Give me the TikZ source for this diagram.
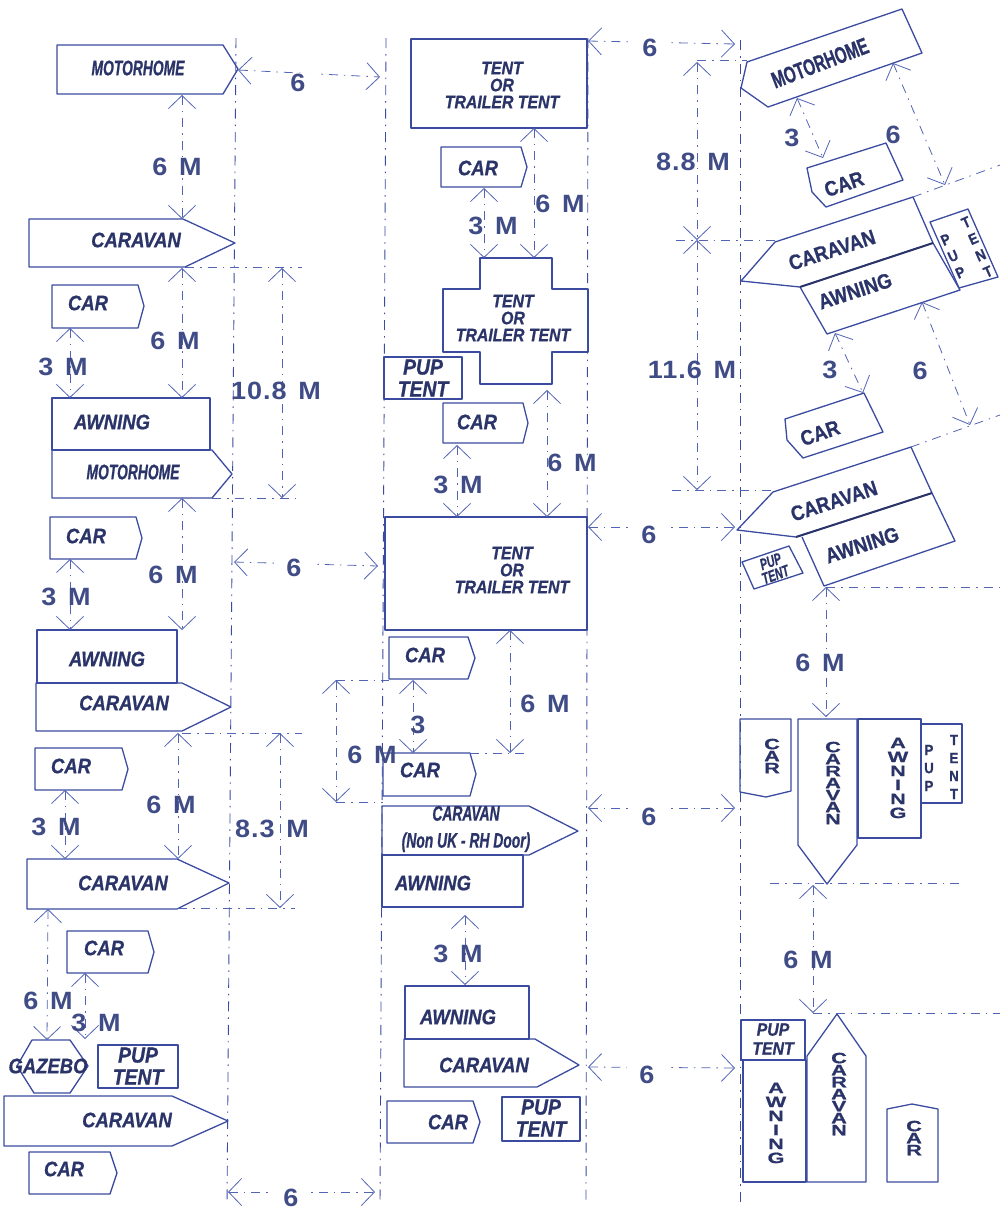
\documentclass[tikz,border=0pt]{standalone}
\usepackage{fontspec}
\usepackage{xcolor}
\usepackage{tikz}
\usetikzlibrary{arrows.meta}
\setmainfont{Liberation Sans}
\newfontfamily\boxfont[FakeStretch=0.88,FakeBold=0.8]{Liberation Sans}
\newfontfamily\tightfont[FakeStretch=0.66,FakeBold=0.8]{Liberation Sans}
\newfontfamily\widefont[FakeStretch=1.45,FakeBold=0.8]{Liberation Sans}
\newfontfamily\dimfont[FakeStretch=1.08,LetterSpace=4,WordSpace=1.4]{Liberation Sans}
\definecolor{boxblue}{HTML}{3A4BA0}
\definecolor{textnavy}{HTML}{2A3468}
\definecolor{dimnavy}{HTML}{3F4C86}
\definecolor{lineblue}{HTML}{5264B4}
\tikzset{
	boxline/.style={draw=boxblue, line width=1.3pt, line join=round},
	thickline/.style={draw=textnavy, line width=2pt},
	dimline/.style={draw=lineblue, line width=0.8pt, dash pattern=on 9pt off 6pt on 1.5pt off 6pt, {Straight Barb[length=13pt,width=27pt]}-{Straight Barb[length=13pt,width=27pt]}},
	extline/.style={draw=lineblue, line width=0.8pt, dash pattern=on 9pt off 6pt on 1.5pt off 6pt},
	axisline/.style={draw=boxblue, line width=0.9pt, dash pattern=on 10pt off 6pt on 1.5pt off 6pt},
	boxtext/.style={inner sep=0pt, text=textnavy, font=\boxfont\bfseries\itshape\fontsize{21}{21}\selectfont},
	tighttext/.style={inner sep=0pt, text=textnavy, align=center, font=\tightfont\bfseries\itshape\fontsize{21}{27}\selectfont},
	tenttext/.style={inner sep=0pt, text=textnavy, align=center, font=\boxfont\bfseries\itshape\fontsize{18}{17}\selectfont},
	puptext/.style={inner sep=0pt, text=textnavy, align=center, font=\boxfont\bfseries\itshape\fontsize{22}{22}\selectfont},
	slanttext/.style={inner sep=0pt, text=textnavy, font=\boxfont\bfseries\fontsize{21}{21}\selectfont},
	stacktext/.style={inner sep=0pt, text=textnavy, align=center, font=\widefont\bfseries\fontsize{15}{#1}\selectfont},
	piptext/.style={inner sep=0pt, text=textnavy, align=center, font=\boxfont\bfseries\fontsize{15}{18}\selectfont},
	dimtext/.style={inner sep=0pt, text=dimnavy, font=\dimfont\bfseries\fontsize{25}{25}\selectfont},
	gaptext/.style={dimtext, fill=white, inner xsep=12pt, inner ysep=1pt}
}
\begin{document}
\begin{tikzpicture}[x=1pt, y=-1pt]
		\useasboundingbox (0,0) rectangle (1007,1211);

		% Axis lines
		\coordinate (axisAt) at (236,38);  \coordinate (axisAb) at (227,1205);
		\coordinate (axisBt) at (386,38);  \coordinate (axisBb) at (380,1205);
		\coordinate (axisCt) at (588,38);  \coordinate (axisCb) at (586,1205);
		\coordinate (axisDt) at (740,40);  \coordinate (axisDb) at (740,1205);
		\draw[axisline] (axisAt) -- (axisAb);
		\draw[axisline] (axisBt) -- (axisBb);
		\draw[axisline] (axisCt) -- (axisCb);
		\draw[axisline] (axisDt) -- (axisDb);

		% Left column
		\draw[boxline] (57,45) -- (223,45) -- (238,69) -- (223,94) -- (57,94) -- cycle;
		\node[tighttext] (motorhomeA) at (138,68) {MOTORHOME};
		\draw[boxline] (29,219) -- (183,219) -- (235,243) -- (185,267) -- (29,267) -- cycle;
		\node[boxtext] (caravanA) at (136,240) {CARAVAN};
		\draw[boxline] (52,285) -- (138,285) -- (144,306) -- (138,328) -- (52,328) -- cycle;
		\node[boxtext] (carA) at (88,303) {CAR};
		\draw[boxline] (52,398) rectangle (210,450);
		\node[boxtext] (awningA) at (112,422) {AWNING};
		\draw[boxline] (52,450) -- (212,450) -- (232,474) -- (212,498) -- (52,498) -- cycle;
		\node[tighttext] (motorhomeB) at (133,472) {MOTORHOME};
		\draw[boxline] (50,517) -- (136,517) -- (142,538) -- (136,559) -- (50,559) -- cycle;
		\node[boxtext] (carB) at (86,536) {CAR};
		\draw[boxline] (37,630) rectangle (177,683);
		\node[boxtext] (awningB) at (107,659) {AWNING};
		\draw[boxline] (36,683) -- (182,683) -- (231,707) -- (182,731) -- (36,731) -- cycle;
		\node[boxtext] (caravanB) at (124,703) {CARAVAN};
		\draw[boxline] (35,748) -- (122,748) -- (128,769) -- (122,790) -- (35,790) -- cycle;
		\node[boxtext] (carC) at (71,766) {CAR};
		\draw[boxline] (27,859) -- (177,859) -- (229,883) -- (177,909) -- (27,909) -- cycle;
		\node[boxtext] (caravanC) at (123,883) {CARAVAN};
		\draw[boxline] (67,931) -- (148,931) -- (154,952) -- (148,973) -- (67,973) -- cycle;
		\node[boxtext] (carD) at (104,948) {CAR};
		\draw[boxline] (32,1040) -- (70,1040) -- (88,1066) -- (70,1093) -- (34,1093) -- (17,1066) -- cycle;
		\node[boxtext] (gazebo) at (48,1066) {GAZEBO};
		\draw[boxline] (98,1045) rectangle (178,1088);
		\node[puptext] (pupA) at (138,1066) {PUP\\TENT};
		\draw[boxline] (4,1096) -- (172,1096) -- (228,1121) -- (172,1146) -- (4,1146) -- cycle;
		\node[boxtext] (caravanD) at (127,1120) {CARAVAN};
		\draw[boxline] (29,1152) -- (110,1152) -- (117,1173) -- (110,1194) -- (29,1194) -- cycle;
		\node[boxtext] (carE) at (64,1169) {CAR};

		% Middle column
		\draw[boxline] (411,39) rectangle (587,128);
		\node[tenttext] (tentA) at (502,85) {TENT\\OR\\TRAILER TENT};
		\draw[boxline] (441,147) -- (521,147) -- (527,167) -- (521,187) -- (441,187) -- cycle;
		\node[boxtext] (carF) at (478,168) {CAR};
		\draw[boxline] (480,258) -- (552,258) -- (552,289) -- (588,289) -- (588,352) -- (552,352) -- (552,384) -- (480,384) -- (480,352) -- (443,352) -- (443,289) -- (480,289) -- cycle;
		\node[tenttext] (tentB) at (513,318) {TENT\\OR\\TRAILER TENT};
		\draw[boxline, fill=white] (384,357) rectangle (462,399);
		\node[puptext] (pupB) at (423,378) {PUP\\TENT};
		\draw[boxline] (443,403) -- (523,403) -- (528,423) -- (523,443) -- (443,443) -- cycle;
		\node[boxtext] (carG) at (477,422) {CAR};
		\draw[boxline] (385,517) rectangle (587,630);
		\node[tenttext] (tentC) at (512,570) {TENT\\OR\\TRAILER TENT};
		\draw[boxline] (389,637) -- (468,637) -- (475,658) -- (468,679) -- (389,679) -- cycle;
		\node[boxtext] (carH) at (425,655) {CAR};
		\draw[boxline] (383,753) -- (470,753) -- (476,774) -- (470,796) -- (383,796) -- cycle;
		\node[boxtext] (carI) at (420,770) {CAR};
		\draw[boxline] (382,806) -- (529,806) -- (578,831) -- (529,855) -- (382,855) -- cycle;
		\node[tighttext] (caravanE) at (466,829) {CARAVAN\\(Non UK - RH Door)};
		\draw[boxline] (382,855) rectangle (523,907);
		\node[boxtext] (awningC) at (433,883) {AWNING};
		\draw[boxline] (405,986) rectangle (529,1039);
		\node[boxtext] (awningD) at (458,1017) {AWNING};
		\draw[boxline] (404,1039) -- (535,1039) -- (579,1065) -- (537,1087) -- (404,1087) -- cycle;
		\node[boxtext] (caravanF) at (484,1065) {CARAVAN};
		\draw[boxline] (387,1101) -- (473,1101) -- (480,1122) -- (473,1143) -- (387,1143) -- cycle;
		\node[boxtext] (carJ) at (448,1122) {CAR};
		\draw[boxline] (502,1097) rectangle (580,1141);
		\node[puptext] (pupC) at (541,1118) {PUP\\TENT};

		% Right column, angled
		\draw[boxline] (747,62) -- (902,9) -- (922,53) -- (768,107) -- (741,88) -- cycle;
		\node[tighttext, font=\tightfont\bfseries\fontsize{23}{23}\selectfont, rotate=21] (motorhomeC) at (820,63) {MOTORHOME};
		\draw[boxline] (807,168) -- (886,143) -- (903,180) -- (826,207) -- (812,192) -- cycle;
		\node[slanttext, rotate=19] (carK) at (844,184) {CAR};
		\draw[boxline] (775,242) -- (913,197) -- (933,243) -- (800,287) -- (741,281) -- cycle;
		\node[slanttext, rotate=18] (caravanG) at (832,250) {CARAVAN};
		\draw[boxline] (800,287) -- (827,334) -- (960,290) -- (933,243);
		\draw[thickline] (800,287) -- (933,243);
		\node[slanttext, rotate=18] (awningE) at (855,291) {AWNING};
		\draw[boxline] (930,222) -- (968,209) -- (998,277) -- (959,288) -- cycle;
		\node[piptext, rotate=24] (pupD) at (953,256) {P\\U\\P};
		\node[piptext, rotate=24] (tentD) at (977,247) {T\\E\\N\\T};
		\draw[boxline] (785,419) -- (864,393) -- (883,432) -- (803,458) -- (787,440) -- cycle;
		\node[slanttext, rotate=19] (carL) at (820,433) {CAR};
		\draw[boxline] (773,492) -- (911,447) -- (932,493) -- (796,537) -- (737,530) -- cycle;
		\node[slanttext, rotate=18] (caravanH) at (834,501) {CARAVAN};
		\draw[boxline] (802,537) -- (824,586) -- (955,541) -- (932,493);
		\draw[thickline] (796,537) -- (932,493);
		\node[slanttext, rotate=18] (awningF) at (862,545) {AWNING};
		\draw[boxline] (742,562) -- (789,546) -- (803,573) -- (754,589) -- cycle;
		\node[tenttext, font=\tightfont\bfseries\itshape\fontsize{16}{14}\selectfont, rotate=20] (pupE) at (773,568) {PUP\\TENT};

		% Right column, upright
		\draw[boxline] (740,719) -- (791,719) -- (791,791) -- (766,797) -- (740,792) -- cycle;
		\node[stacktext=12] (carM) at (772,756) {C\\A\\R};
		\draw[boxline] (798,719) -- (857,719) -- (857,845) -- (827,884) -- (798,845) -- cycle;
		\node[stacktext=12] (caravanI) at (833,783) {C\\A\\R\\A\\V\\A\\N};
		\draw[boxline] (858,719) rectangle (921,838);
		\node[stacktext=14] (awningG) at (898,778) {A\\W\\N\\I\\N\\G};
		\draw[boxline] (921,724) rectangle (962,803);
		\node[piptext] (pupF) at (929,768) {P\\U\\P};
		\node[piptext] (tentF) at (954,767) {T\\E\\N\\T};
		\draw[boxline] (741,1020) rectangle (805,1060);
		\node[puptext, font=\boxfont\bfseries\itshape\fontsize{18}{19}\selectfont] (pupG) at (773,1039) {PUP\\TENT};
		\draw[boxline] (743,1060) rectangle (806,1182);
		\node[stacktext=14] (awningH) at (776,1123) {A\\W\\N\\I\\N\\G};
		\draw[boxline] (807,1056) -- (837,1014) -- (866,1056) -- (866,1182) -- (807,1182) -- cycle;
		\node[stacktext=12] (caravanJ) at (839,1094) {C\\A\\R\\A\\V\\A\\N};
		\draw[boxline] (887,1109) -- (912,1104) -- (938,1109) -- (938,1182) -- (887,1182) -- cycle;
		\node[stacktext=12] (carN) at (914,1138) {C\\A\\R};

		% Arrow ends
		\coordinate (a1) at (182,95);    \coordinate (a2) at (182,219);
		\coordinate (a3) at (182,268);   \coordinate (a4) at (182,398);
		\coordinate (a5) at (282,268);   \coordinate (a6) at (282,498);
		\coordinate (a7) at (70,328);    \coordinate (a8) at (70,398);
		\coordinate (a9) at (182,498);   \coordinate (a10) at (182,630);
		\coordinate (a11) at (70,559);   \coordinate (a12) at (70,630);
		\coordinate (a13) at (178,733);  \coordinate (a14) at (178,859);
		\coordinate (a15) at (280,733);  \coordinate (a16) at (280,908);
		\coordinate (a17) at (65,790);   \coordinate (a18) at (65,859);
		\coordinate (a19) at (48,909);   \coordinate (a20) at (47,1040);
		\coordinate (a21) at (85,973);   \coordinate (a22) at (85,1039);
		\coordinate (h1) at (238,70);    \coordinate (h2) at (380,77);
		\coordinate (h3) at (234,562);   \coordinate (h4) at (378,566);
		\coordinate (h5) at (228,1192);  \coordinate (h6) at (375,1192);
		\coordinate (b1) at (484,188);   \coordinate (b2) at (484,258);
		\coordinate (b3) at (534,128);   \coordinate (b4) at (534,258);
		\coordinate (b5) at (457,445);   \coordinate (b6) at (457,517);
		\coordinate (b7) at (547,390);   \coordinate (b8) at (547,517);
		\coordinate (b9) at (413,680);   \coordinate (b10) at (413,753);
		\coordinate (b11) at (510,630);  \coordinate (b12) at (510,753);
		\coordinate (b13) at (336,680);  \coordinate (b14) at (336,802);
		\coordinate (b15) at (465,915);  \coordinate (b16) at (465,985);
		\coordinate (h7) at (588,41);    \coordinate (h8) at (735,44);
		\coordinate (h9) at (588,527);   \coordinate (h10) at (735,527);
		\coordinate (h11) at (588,808);  \coordinate (h12) at (735,808);
		\coordinate (h13) at (588,1067); \coordinate (h14) at (735,1068);
		\coordinate (c1) at (697,62);    \coordinate (c2) at (697,240);
		\coordinate (c3) at (697,240);   \coordinate (c4) at (697,490);
		\coordinate (c5) at (797,98);    \coordinate (c6) at (823,158);
		\coordinate (c7) at (893,63);    \coordinate (c8) at (945,185);
		\coordinate (c9) at (835,333);   \coordinate (c10) at (863,393);
		\coordinate (c11) at (922,302);  \coordinate (c12) at (970,425);
		\coordinate (c13) at (826,587);  \coordinate (c14) at (826,717);
		\coordinate (c15) at (813,885);  \coordinate (c16) at (813,1013);

		% Extension line ends
		\coordinate (e1) at (185,267);   \coordinate (e2) at (302,267);
		\coordinate (e3) at (212,498);   \coordinate (e4) at (302,498);
		\coordinate (e5) at (182,733);   \coordinate (e6) at (302,733);
		\coordinate (e7) at (178,908);   \coordinate (e8) at (295,908);
		\coordinate (e9) at (336,680);   \coordinate (e10) at (389,680);
		\coordinate (e11) at (336,802);  \coordinate (e12) at (383,802);
		\coordinate (e13) at (470,753);  \coordinate (e14) at (525,753);
		\coordinate (e15) at (697,60);   \coordinate (e16) at (747,60);
		\coordinate (e17) at (676,240);  \coordinate (e18) at (775,240);
		\coordinate (e19) at (672,490);  \coordinate (e20) at (773,490);
		\coordinate (e21) at (913,197);  \coordinate (e22) at (1000,165);
		\coordinate (e23) at (911,447);  \coordinate (e24) at (1000,415);
		\coordinate (e25) at (826,587);  \coordinate (e26) at (1000,587);
		\coordinate (e27) at (770,883);  \coordinate (e28) at (965,883);
		\coordinate (e29) at (813,1013); \coordinate (e30) at (1000,1013);

		% Arrows
		\draw[dimline] (a1) -- (a2);
		\draw[dimline] (a3) -- (a4);
		\draw[dimline] (a5) -- (a6);
		\draw[dimline] (a7) -- (a8);
		\draw[dimline] (a9) -- (a10);
		\draw[dimline] (a11) -- (a12);
		\draw[dimline] (a13) -- (a14);
		\draw[dimline] (a15) -- (a16);
		\draw[dimline] (a17) -- (a18);
		\draw[dimline] (a19) -- (a20);
		\draw[dimline] (a21) -- (a22);
		\draw[dimline] (h1) -- (h2);
		\draw[dimline] (h3) -- (h4);
		\draw[dimline] (h5) -- (h6);
		\draw[dimline] (b1) -- (b2);
		\draw[dimline] (b3) -- (b4);
		\draw[dimline] (b5) -- (b6);
		\draw[dimline] (b7) -- (b8);
		\draw[dimline] (b9) -- (b10);
		\draw[dimline] (b11) -- (b12);
		\draw[dimline] (b13) -- (b14);
		\draw[dimline] (b15) -- (b16);
		\draw[dimline] (h7) -- (h8);
		\draw[dimline] (h9) -- (h10);
		\draw[dimline] (h11) -- (h12);
		\draw[dimline] (h13) -- (h14);
		\draw[dimline] (c1) -- (c2);
		\draw[dimline] (c3) -- (c4);
		\draw[dimline] (c5) -- (c6);
		\draw[dimline] (c7) -- (c8);
		\draw[dimline] (c9) -- (c10);
		\draw[dimline] (c11) -- (c12);
		\draw[dimline] (c13) -- (c14);
		\draw[dimline] (c15) -- (c16);

		% Extension lines
		\draw[extline] (e1) -- (e2);
		\draw[extline] (e3) -- (e4);
		\draw[extline] (e5) -- (e6);
		\draw[extline] (e7) -- (e8);
		\draw[extline] (e9) -- (e10);
		\draw[extline] (e11) -- (e12);
		\draw[extline] (e13) -- (e14);
		\draw[extline] (e15) -- (e16);
		\draw[extline] (e17) -- (e18);
		\draw[extline] (e19) -- (e20);
		\draw[extline] (e21) -- (e22);
		\draw[extline] (e23) -- (e24);
		\draw[extline] (e25) -- (e26);
		\draw[extline] (e27) -- (e28);
		\draw[extline] (e29) -- (e30);

		% Labels
		\node[dimtext] (lenA) at (177,167) {6 M};
		\node[dimtext] (lenB) at (175,341) {6 M};
		\node[dimtext] (lenC) at (276,391) {10.8 M};
		\node[dimtext] (lenD) at (63,367) {3 M};
		\node[dimtext] (lenE) at (173,575) {6 M};
		\node[dimtext] (lenF) at (66,597) {3 M};
		\node[dimtext] (lenG) at (171,805) {6 M};
		\node[dimtext] (lenH) at (272,829) {8.3 M};
		\node[dimtext] (lenI) at (56,827) {3 M};
		\node[dimtext] (lenJ) at (48,1001) {6 M};
		\node[dimtext] (lenK) at (96,1023) {3 M};
		\node[gaptext] (lenL) at (298,83) {6};
		\node[gaptext] (lenM) at (294,568) {6};
		\node[gaptext] (lenN) at (291,1198) {6};
		\node[dimtext] (lenO) at (493,226) {3 M};
		\node[dimtext] (lenP) at (560,204) {6 M};
		\node[dimtext] (lenQ) at (458,485) {3 M};
		\node[dimtext] (lenR) at (572,463) {6 M};
		\node[dimtext] (lenS) at (418,725) {3};
		\node[dimtext] (lenT) at (545,704) {6 M};
		\node[dimtext] (lenU) at (372,755) {6 M};
		\node[dimtext] (lenV) at (458,954) {3 M};
		\node[gaptext] (lenW) at (650,48) {6};
		\node[gaptext] (lenX) at (649,535) {6};
		\node[gaptext] (lenY) at (649,817) {6};
		\node[gaptext] (lenZ) at (647,1075) {6};
		\node[dimtext] (lenAA) at (693,162) {8.8 M};
		\node[dimtext] (lenAB) at (692,370) {11.6 M};
		\node[dimtext] (lenAC) at (792,138) {3};
		\node[dimtext] (lenAD) at (893,135) {6};
		\node[dimtext] (lenAE) at (830,370) {3};
		\node[dimtext] (lenAF) at (920,371) {6};
		\node[dimtext] (lenAG) at (820,663) {6 M};
		\node[dimtext] (lenAH) at (808,960) {6 M};
\end{tikzpicture}
\end{document}
